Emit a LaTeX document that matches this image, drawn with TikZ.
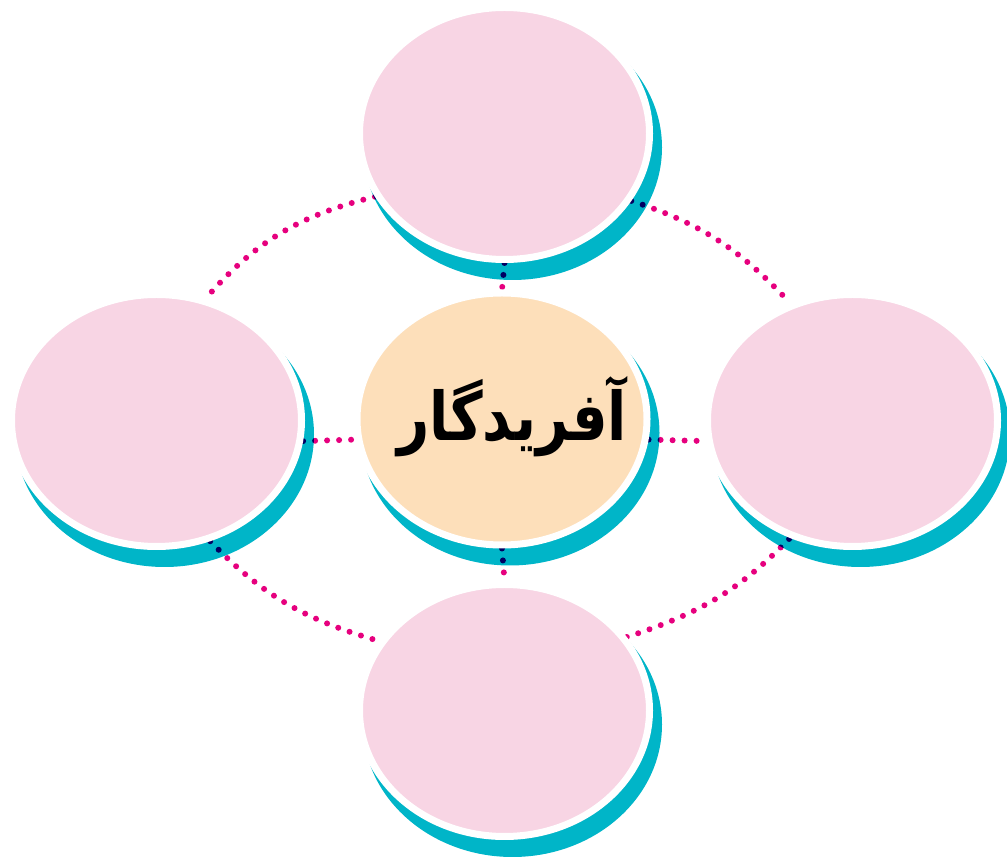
\documentclass[tikz,border=0pt]{standalone}
\usepackage{fontspec}
\newfontfamily\arabicfont[Script=Arabic]{DejaVu Sans}
\TeXXeTstate=1
\usetikzlibrary{shapes.geometric}
\definecolor{bubblepink}{HTML}{F8D5E4}
\definecolor{bubblepeach}{HTML}{FDDFBA}
\definecolor{shadowteal}{HTML}{00B5C8}
\definecolor{dotmagenta}{HTML}{E6007E}
\pgfdeclarelayer{shadowlayer}
\pgfdeclarelayer{linklayer}
\pgfsetlayers{shadowlayer,linklayer,main}
\tikzset{
  bubble/.style={ellipse, fill=bubblepink, draw=white, line width=7pt,
    minimum width=290pt, minimum height=252pt, inner sep=0pt},
  hub/.style={bubble, fill=bubblepeach},
  shade/.style={fill=shadowteal},
  link/.style={draw=dotmagenta, line width=6pt, line cap=round,
    dash pattern=on 0pt off 12pt, blend mode=multiply},
  titletext/.style={inner sep=0pt, font=\fontsize{56}{60}\selectfont\arabicfont\bfseries}
}
\begin{document}
\begin{tikzpicture}[x=1pt,y=1pt]
\useasboundingbox (0,0) rectangle (1007,857);
\node[bubble] (top) at (504.5,723.5) {};
\node[hub] (center) at (502,438) {};
\node[titletext] (title) at ([shift={(10,2)}]center.center) {\scalebox{1}[1.2]{\beginR آفریدگار\endR}};
\node[bubble] (left) at (156.5,436.5) {};
\node[bubble] (right) at (852.5,436.5) {};
\node[bubble] (bottom) at (504.5,146.5) {};
\begin{pgfonlayer}{shadowlayer}
  \foreach \n in {top,center,left,right,bottom}
    \fill[shade] ([shift={(8,-14)}]\n.center) ellipse [x radius=149.5, y radius=132.5];
\end{pgfonlayer}
\begin{pgfonlayer}{linklayer}
  \draw[link] (top.south) -- (center.north);
  \draw[link] (center.south) -- (bottom.north);
  \draw[link] (left.-8) -- (center.188);
  \draw[link] (center.-8) -- (right.188);
  \draw[link] (top.206) to[out=194,in=49] (left.68);
  \draw[link] (top.332) to[out=-18,in=133] (right.118);
  \draw[link] (left.294) to[out=-46,in=164] (bottom.151);
  \draw[link] (bottom.31) to[out=18,in=226] (right.242);
\end{pgfonlayer}
\end{tikzpicture}
\end{document}
